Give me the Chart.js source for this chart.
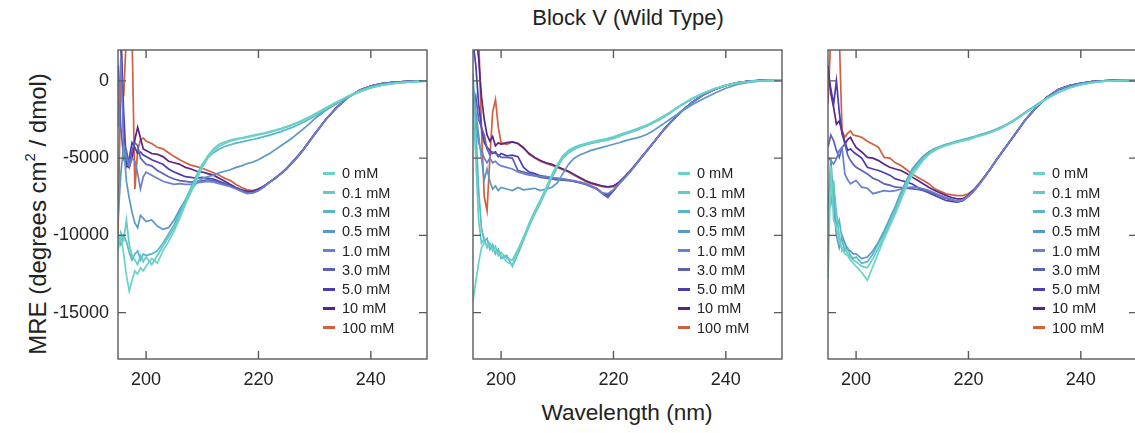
<!DOCTYPE html>
<html>
<head>
<meta charset="utf-8">
<script src="https://cdn.jsdelivr.net/npm/chart.js@4.4.1/dist/chart.umd.min.js"></script>
<style>
  html, body { margin: 0; padding: 0; background: #ffffff; }
  body { width: 1135px; height: 433px; position: relative; overflow: hidden;
         font-family: "Liberation Sans", Arial, Helvetica, sans-serif; color: #222; }
  .panel { position: absolute; top: 40px; width: 409px; height: 359px; }
  .txt { position: absolute; white-space: nowrap; color: #222; }
  .legend { position: absolute; font-size: 14.5px; color: #222; }
  .legend .row { position: absolute; left: 0; height: 18px; line-height: 18px; white-space: nowrap; }
  .legend .dash { position: absolute; left: 0; top: 7.5px; width: 12px; height: 3px; }
  .legend .lab { position: absolute; left: 19px; top: 0; }
  sup { font-size: 0.62em; position: relative; top: -0.12em; }
</style>
</head>
<body>
<div class="txt" id="title" style="left:628px; top:7px; font-size:22px; line-height:22px; transform:translateX(-50%);">Block V (Wild Type)</div>
<div class="txt" id="xlabel" style="left:627px; top:402px; font-size:22.6px; line-height:22px; transform:translateX(-50%);">Wavelength (nm)</div>
<div class="txt" id="ylabel" style="left:35px; top:214px; font-size:24px; line-height:24px; transform:translate(-50%,-50%) rotate(-90deg);">MRE (degrees cm<sup>2</sup> / dmol)</div>

<script>
// ---------------- DATA ----------------
const wavelengths = [195,195.5,196,196.5,197,197.5,198,198.5,199,199.5,200,
  201,202,203,204,205,206,207,208,209,210,
  211,212,213,214,215,216,217,218,219,220,
  221,222,223,224,225,226,227,228,229,230,
  232,234,236,238,240,242,244,246,248,250];

const concentrations = ['0 mM','0.1 mM','0.3 mM','0.5 mM','1.0 mM','3.0 mM','5.0 mM','10 mM','100 mM'];
const seriesColors = ['#6ad3c5','#62cbc7','#58b6c6','#5c98c6','#6b80cc','#5b5fb9','#4a3daf','#5a2485','#d0603f'];

const xTickValues = [200, 220, 240];
const yTickValues = [0, -5000, -10000, -15000];

// Panel 1
const p1_0mM = [-10800,-10000,-11200,-12600,-13600,-12900,-12300,-12500,-12100,-12300,-12000,
  -11500,-11800,-11000,-10400,-9700,-8900,-8000,-7200,-6400,-5600,
  -5000,-4550,-4250,-4050,-3900,-3800,-3720,-3650,-3580,-3500,
  -3420,-3330,-3230,-3120,-3000,-2870,-2720,-2550,-2370,-2180,
  -1780,-1380,-1000,-680,-430,-270,-170,-100,-50,-20];
const p1_0_1mM = [-11000,-9800,-10300,-9000,-10600,-11300,-11600,-11900,-11300,-11700,-11400,
  -11900,-11300,-10700,-10100,-9500,-8700,-7800,-7000,-6200,-5450,
  -4850,-4400,-4100,-3950,-3830,-3750,-3680,-3600,-3520,-3450,
  -3370,-3280,-3190,-3080,-2960,-2830,-2680,-2510,-2330,-2140,
  -1740,-1350,-980,-660,-420,-260,-160,-90,-40,-10];
const p1_0_3mM = [-10000,-10600,-10000,-10400,-11100,-11600,-11200,-11000,-11600,-11200,-11300,
  -11200,-11000,-10500,-9900,-9300,-8500,-7700,-6900,-6100,-5400,
  -4950,-4650,-4420,-4250,-4130,-4030,-3950,-3870,-3790,-3700,
  -3610,-3510,-3400,-3280,-3150,-3010,-2850,-2670,-2480,-2280,
  -1850,-1430,-1040,-710,-450,-280,-180,-100,-50,-20];
const p1_0_5mM = [-9000,-6000,-4200,-6500,-7600,-8500,-9200,-9500,-8700,-8900,-9100,
  -9000,-9400,-9600,-9500,-9000,-8300,-7700,-7100,-6600,-6300,
  -6200,-6100,-5950,-5850,-5750,-5600,-5500,-5350,-5250,-5100,
  -4900,-4700,-4450,-4200,-3950,-3700,-3400,-3100,-2800,-2450,
  -1900,-1450,-1000,-650,-380,-230,-130,-70,-30,0];
const p1_1mM = [-3000,1500,-4000,-5000,-5500,-5000,-5200,-6000,-7000,-6200,-5900,
  -6100,-6300,-6500,-6600,-6700,-6650,-6700,-6700,-6600,-6550,
  -6500,-6550,-6650,-6750,-6850,-7000,-7150,-7300,-7250,-7100,
  -6850,-6550,-6300,-6000,-5700,-5300,-4900,-4450,-3950,-3450,
  -2500,-1700,-1050,-600,-330,-180,-100,-50,-20,0];
const p1_3mM = [1000,-3000,-5000,-4500,-5500,-4500,-4000,-4200,-5000,-5200,-5400,
  -5500,-5800,-6000,-6200,-6350,-6450,-6500,-6550,-6500,-6450,
  -6400,-6450,-6550,-6700,-6800,-6950,-7100,-7250,-7250,-7100,
  -6850,-6570,-6300,-6000,-5680,-5280,-4870,-4420,-3930,-3430,
  -2480,-1690,-1040,-600,-330,-180,-100,-50,-20,0];
const p1_5mM = [2500,3000,-2000,-5500,-5000,-4000,-4300,-4700,-4600,-4800,-4900,
  -5100,-5250,-5400,-5700,-5900,-6050,-6200,-6250,-6300,-6250,
  -6300,-6350,-6500,-6650,-6800,-6950,-7100,-7200,-7200,-7050,
  -6820,-6540,-6280,-5980,-5660,-5260,-4860,-4420,-3930,-3430,
  -2480,-1690,-1040,-600,-330,-180,-100,-50,-20,0];
const p1_10mM = [3000,3000,-3500,-5500,-5600,-5000,-3800,-3000,-3700,-4400,-4500,
  -4700,-4750,-4900,-5200,-5300,-5400,-5600,-5700,-5850,-5900,
  -6000,-6100,-6300,-6500,-6700,-6900,-7050,-7150,-7150,-7000,
  -6800,-6550,-6300,-6000,-5700,-5300,-4900,-4450,-3950,-3450,
  -2500,-1700,-1050,-600,-330,-180,-100,-50,-20,0];
const p1_100mM = [-10000,300,-1000,3000,3000,3000,-7000,-4500,-3800,-3700,-3900,
  -4050,-4300,-4400,-4650,-4900,-5100,-5300,-5450,-5550,-5650,
  -5800,-5950,-6100,-6300,-6450,-6700,-6900,-7050,-7100,-7000,
  -6800,-6550,-6300,-6000,-5700,-5300,-4900,-4450,-3950,-3450,
  -2500,-1700,-1050,-600,-330,-180,-100,-50,-20,0];

// Panel 2
const p2_0mM = [-14200,-13000,-11800,-10800,-10500,-10600,-10700,-10800,-11000,-11200,-11300,
  -11700,-11900,-11000,-10200,-9300,-8500,-7800,-7000,-6200,-5500,
  -4950,-4600,-4380,-4220,-4120,-4020,-3950,-3880,-3800,-3700,
  -3560,-3420,-3300,-3180,-3040,-2880,-2700,-2510,-2300,-2080,
  -1580,-1150,-800,-510,-290,-140,-50,0,30,50];
const p2_0_1mM = [-1500,-5000,-9000,-10500,-10200,-10800,-10500,-11000,-10700,-11300,-11100,
  -11500,-11600,-10900,-10100,-9200,-8400,-7700,-6900,-6100,-5400,
  -4850,-4500,-4300,-4150,-4050,-3960,-3880,-3800,-3720,-3620,
  -3490,-3360,-3240,-3120,-2990,-2840,-2660,-2470,-2260,-2040,
  -1550,-1130,-780,-500,-280,-130,-40,10,40,60];
const p2_0_3mM = [500,-3000,-7000,-9500,-10400,-10200,-10900,-10600,-11200,-10900,-11500,
  -11300,-12000,-11200,-10300,-9400,-8600,-7900,-7100,-6300,-5600,
  -5000,-4650,-4420,-4260,-4150,-4050,-3970,-3900,-3820,-3720,
  -3590,-3450,-3330,-3200,-3070,-2910,-2730,-2540,-2330,-2100,
  -1600,-1170,-810,-520,-300,-150,-60,0,30,50];
const p2_0_5mM = [-500,-2000,-3500,-5000,-6400,-5700,-6500,-7000,-6800,-7100,-6900,
  -7000,-7100,-6900,-7050,-7000,-6950,-7100,-7000,-6900,-6600,
  -6000,-5400,-5000,-4800,-4650,-4500,-4400,-4300,-4200,-4100,
  -4000,-3880,-3780,-3700,-3600,-3450,-3250,-3000,-2750,-2500,
  -2000,-1550,-1150,-800,-480,-230,-90,-20,20,40];
const p2_1mM = [-1000,-2500,-4000,-4500,-5000,-5300,-5000,-5300,-5200,-5400,-5500,
  -5600,-5700,-5900,-6000,-6100,-6150,-6200,-6200,-6250,-6300,
  -6350,-6400,-6450,-6550,-6650,-6800,-7000,-7250,-7300,-7050,
  -6650,-6280,-5870,-5420,-4960,-4500,-4050,-3600,-3150,-2750,
  -2000,-1400,-900,-550,-300,-130,-30,20,50,60];
const p2_3mM = [-2000,-1000,-2500,-3000,-3500,-4400,-4800,-4600,-4700,-4800,-4950,
  -4950,-5000,-5800,-5900,-6000,-6130,-6250,-6300,-6340,-6400,
  -6420,-6450,-6500,-6600,-6700,-6850,-7000,-7300,-7550,-7100,
  -6650,-6270,-5860,-5410,-4950,-4500,-4050,-3600,-3150,-2750,
  -2000,-1400,-900,-550,-300,-130,-30,20,50,60];
const p2_5mM = [2500,1000,-1500,-3000,-4000,-4300,-4500,-4700,-4600,-4900,-4700,
  -4850,-4800,-4900,-5600,-5900,-6000,-6150,-6200,-6300,-6300,
  -6350,-6400,-6500,-6550,-6650,-6800,-6950,-7250,-7400,-7100,
  -6650,-6260,-5850,-5400,-4950,-4500,-4050,-3600,-3150,-2750,
  -2000,-1400,-900,-550,-300,-130,-30,20,50,60];
const p2_10mM = [3000,3000,1500,-1000,-2500,-3500,-3900,-3600,-4200,-4000,-4100,
  -4000,-3950,-4050,-4350,-4700,-4950,-5150,-5300,-5400,-5550,
  -5700,-5850,-6050,-6250,-6450,-6600,-6700,-6800,-6850,-6800,
  -6550,-6200,-5800,-5380,-4930,-4480,-4030,-3580,-3130,-2730,
  -1990,-1390,-890,-540,-290,-120,-20,30,60,70];
const p2_100mM = [3000,3000,3000,-3000,-7500,-8400,-5000,-2000,-1200,-3000,-4000,
  -4100,-3950,-4050,-4300,-4750,-5000,-5200,-5350,-5450,-5600,
  -5750,-5900,-6100,-6300,-6500,-6650,-6750,-6850,-6900,-6850,
  -6580,-6230,-5830,-5400,-4950,-4500,-4050,-3600,-3150,-2750,
  -2000,-1400,-900,-550,-300,-130,-30,20,50,60];

// Panel 3
const p3_0mM = [-12800,-5500,-9000,-9500,-10500,-10800,-11200,-11300,-11600,-11800,-12000,
  -12400,-12900,-12000,-11100,-10200,-9400,-8600,-7700,-6800,-6100,
  -5600,-5100,-4750,-4500,-4330,-4200,-4080,-3980,-3880,-3800,
  -3680,-3570,-3460,-3340,-3200,-3030,-2830,-2620,-2380,-2120,
  -1620,-1150,-750,-450,-250,-120,-40,0,20,30];
const p3_0_1mM = [-9500,-7000,-6600,-8500,-10000,-11000,-10700,-11200,-11400,-11600,-11700,
  -12000,-12100,-11500,-10800,-10000,-9200,-8400,-7500,-6600,-5900,
  -5450,-5000,-4680,-4440,-4270,-4150,-4040,-3940,-3840,-3750,
  -3640,-3530,-3420,-3300,-3160,-3000,-2800,-2590,-2350,-2090,
  -1600,-1130,-740,-440,-240,-110,-30,10,30,30];
const p3_0_3mM = [-7000,-8000,-6800,-9500,-9000,-10300,-11000,-10800,-11300,-11500,-11400,
  -11800,-11700,-11200,-10500,-9800,-9000,-8200,-7300,-6500,-5800,
  -5350,-4950,-4650,-4420,-4260,-4140,-4030,-3930,-3830,-3740,
  -3630,-3520,-3410,-3290,-3150,-2990,-2790,-2580,-2340,-2080,
  -1590,-1120,-730,-430,-230,-100,-20,10,30,40];
const p3_0_5mM = [-8500,-5000,-8000,-10000,-10800,-10000,-10500,-10900,-11000,-11200,-11200,
  -11500,-11400,-11000,-10400,-9700,-8900,-8100,-7200,-6400,-5700,
  -5250,-4850,-4580,-4380,-4230,-4100,-4000,-3900,-3800,-3700,
  -3600,-3490,-3380,-3260,-3120,-2960,-2770,-2560,-2320,-2060,
  -1570,-1100,-720,-420,-220,-90,-10,20,40,40];
const p3_1mM = [-4950,-5160,-5375,-5050,-4500,-4300,-6020,-6400,-6670,-6550,-6450,
  -6880,-6950,-7300,-7200,-7100,-7150,-7100,-7000,-6900,-6880,
  -6900,-6990,-7100,-7250,-7400,-7550,-7650,-7800,-7700,-7450,
  -7100,-6650,-6150,-5650,-5100,-4600,-4100,-3600,-3100,-2580,
  -1750,-1050,-560,-300,-150,-50,0,30,20,0];
const p3_3mM = [-4300,-3500,-3870,-4500,-4950,-4300,-4085,-4800,-5160,-5400,-5590,
  -5800,-6020,-6300,-6450,-6670,-6750,-6880,-6900,-6950,-6990,
  -7030,-7100,-7200,-7310,-7450,-7600,-7700,-7800,-7750,-7450,
  -7100,-6650,-6150,-5650,-5100,-4600,-4100,-3600,-3100,-2580,
  -1750,-1050,-560,-300,-150,-50,0,30,20,0];
const p3_5mM = [500,-500,-1500,0,-2000,-3440,-3900,-4500,-4400,-4600,-4730,
  -5000,-5590,-5700,-5800,-5950,-6100,-6340,-6450,-6550,-6670,
  -6900,-7100,-7250,-7420,-7580,-7740,-7800,-7850,-7750,-7450,
  -7100,-6650,-6150,-5650,-5100,-4600,-4100,-3600,-3100,-2580,
  -1750,-1050,-560,-300,-150,-50,0,30,20,0];
const p3_10mM = [1000,-800,-1720,-2800,-2600,-3300,-4085,-3800,-3650,-4000,-4300,
  -4600,-4950,-5000,-5160,-5400,-5590,-5700,-5800,-6000,-6230,
  -6450,-6670,-6900,-7100,-7250,-7420,-7550,-7630,-7630,-7400,
  -7050,-6620,-6130,-5630,-5100,-4600,-4100,-3600,-3100,-2580,
  -1750,-1050,-560,-300,-150,-50,0,30,20,0];
const p3_100mM = [-1500,3000,3000,3000,3000,-3200,-3650,-3400,-3225,-3500,-3540,
  -3650,-3900,-4100,-4300,-4950,-5000,-5300,-5480,-5750,-6020,
  -6250,-6450,-6670,-6990,-7150,-7310,-7380,-7420,-7420,-7300,
  -7000,-6600,-6150,-5650,-5100,-4600,-4100,-3600,-3100,-2580,
  -1750,-1050,-560,-300,-150,-50,0,30,20,0];

const panelSeries = [
  [p1_0mM, p1_0_1mM, p1_0_3mM, p1_0_5mM, p1_1mM, p1_3mM, p1_5mM, p1_10mM, p1_100mM],
  [p2_0mM, p2_0_1mM, p2_0_3mM, p2_0_5mM, p2_1mM, p2_3mM, p2_5mM, p2_10mM, p2_100mM],
  [p3_0mM, p3_0_1mM, p3_0_3mM, p3_0_5mM, p3_1mM, p3_3mM, p3_5mM, p3_10mM, p3_100mM]
];

// ---------------- LAYOUT ----------------
const frameLefts = [118, 473, 828];
const AXIS_W = 90, AXIS_H = 40, PAD_T = 10, PAD_R = 10;
const CANVAS_W = AXIS_W + 309 + PAD_R, CANVAS_H = PAD_T + 309 + AXIS_H;
const FONT = '"Liberation Sans", Arial, Helvetica, sans-serif';

const framePlugin = {
  id: 'frameTicks',
  afterDatasetsDraw(chart) {
    const {ctx, chartArea: a, scales} = chart;
    ctx.save();
    ctx.strokeStyle = '#5a5a5a';
    ctx.lineWidth = 1.4;
    ctx.strokeRect(a.left, a.top, a.right - a.left, a.bottom - a.top);
    const L = 8;
    ctx.beginPath();
    xTickValues.forEach(v => {
      const px = scales.x.getPixelForValue(v);
      ctx.moveTo(px, a.bottom); ctx.lineTo(px, a.bottom - L);
      ctx.moveTo(px, a.top); ctx.lineTo(px, a.top + L);
    });
    yTickValues.forEach(v => {
      const py = scales.y.getPixelForValue(v);
      ctx.moveTo(a.left, py); ctx.lineTo(a.left + L, py);
      ctx.moveTo(a.right, py); ctx.lineTo(a.right - L, py);
    });
    ctx.stroke();
    ctx.restore();
  }
};

panelSeries.forEach((series, p) => {
  const div = document.createElement('div');
  div.className = 'panel';
  div.style.left = (frameLefts[p] - AXIS_W) + 'px';
  div.style.width = CANVAS_W + 'px';
  div.style.height = CANVAS_H + 'px';
  const cv = document.createElement('canvas');
  cv.width = CANVAS_W; cv.height = CANVAS_H;
  cv.style.width = CANVAS_W + 'px'; cv.style.height = CANVAS_H + 'px';
  div.appendChild(cv);
  document.body.appendChild(div);

  new Chart(cv, {
    type: 'line',
    data: {
      datasets: series.map((vals, i) => ({
        label: concentrations[i],
        data: wavelengths.map((w, j) => ({x: w, y: vals[j]})),
        borderColor: seriesColors[i],
        backgroundColor: seriesColors[i],
        borderWidth: 1.7,
        pointRadius: 0,
        tension: 0,
        fill: false
      }))
    },
    options: {
      responsive: false,
      animation: false,
      devicePixelRatio: 1,
      layout: { padding: { top: PAD_T, right: PAD_R, left: 0, bottom: 0 } },
      plugins: { legend: { display: false }, tooltip: { enabled: false } },
      scales: {
        x: {
          type: 'linear', min: 195, max: 250,
          afterBuildTicks: s => { s.ticks = xTickValues.map(v => ({value: v})); },
          afterFit: s => { s.height = AXIS_H; s.paddingLeft = 0; s.paddingRight = 0; s.paddingTop = 0; s.paddingBottom = 0; },
          grid: { display: false, drawTicks: false },
          border: { display: false },
          ticks: { font: { family: FONT, size: 18 }, color: '#222', padding: 10, maxRotation: 0,
                   callback: v => String(v) }
        },
        y: {
          type: 'linear', min: -18000, max: 2000,
          afterBuildTicks: s => { s.ticks = yTickValues.map(v => ({value: v})); },
          afterFit: s => { s.width = AXIS_W; s.paddingTop = 0; s.paddingBottom = 0; s.paddingLeft = 0; s.paddingRight = 0; },
          grid: { display: false, drawTicks: false },
          border: { display: false },
          ticks: { display: p === 0, font: { family: FONT, size: 18 }, color: '#222', padding: 9,
                   callback: v => String(v) }
        }
      }
    },
    plugins: [framePlugin]
  });

  // legend (HTML text) built from the same label/colour arrays
  const lg = document.createElement('div');
  lg.className = 'legend';
  lg.style.left = (frameLefts[p] + 205) + 'px';
  lg.style.top = '0px';
  concentrations.forEach((lab, i) => {
    const row = document.createElement('div');
    row.className = 'row';
    row.style.top = (173.3 + i * 19.3 - 9) + 'px';
    const d = document.createElement('span');
    d.className = 'dash';
    d.style.background = seriesColors[i];
    const t = document.createElement('span');
    t.className = 'lab';
    t.textContent = lab;
    row.appendChild(d); row.appendChild(t);
    lg.appendChild(row);
  });
  document.body.appendChild(lg);
});
</script>
</body>
</html>
